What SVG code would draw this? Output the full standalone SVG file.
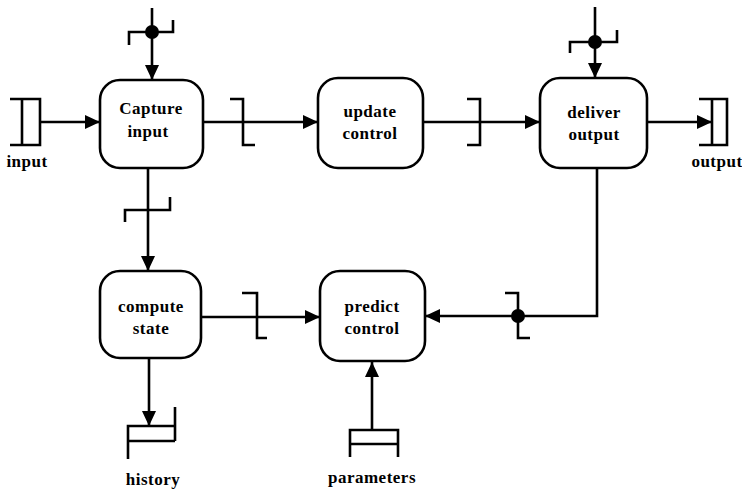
<svg xmlns="http://www.w3.org/2000/svg" width="742" height="492" viewBox="0 0 742 492">
  <style>
    .box { fill: #fff; stroke: #000; stroke-width: 2.6; }
    .ln { fill: none; stroke: #000; stroke-width: 2.6; }
    .t { font-family: "Liberation Serif", "Times New Roman", serif; font-weight: bold; font-size: 17px; text-anchor: middle; fill: #000; letter-spacing: 0.5px; }
  </style>
  <defs>
    <marker id="arrow" markerUnits="userSpaceOnUse" markerWidth="16" markerHeight="14" refX="15" refY="7" orient="auto">
      <path d="M0,0 L15,7 L0,14 z" fill="#000"/>
    </marker>
  </defs>

  <!-- flows -->
  <g id="connectors">
    <path class="ln" d="M40,122 H100" marker-end="url(#arrow)"/>
    <path class="ln" d="M152,8 V80" marker-end="url(#arrow)"/>
    <path class="ln" d="M203,122 H318" marker-end="url(#arrow)"/>
    <path class="ln" d="M423,122 H540" marker-end="url(#arrow)"/>
    <path class="ln" d="M595,7 V78" marker-end="url(#arrow)"/>
    <path class="ln" d="M647,122 H712" marker-end="url(#arrow)"/>
    <path class="ln" d="M148,168 V271" marker-end="url(#arrow)"/>
    <path class="ln" d="M201,317 H320" marker-end="url(#arrow)"/>
    <path class="ln" d="M597,168 V316 H425" marker-end="url(#arrow)"/>
    <path class="ln" d="M372,430 V362" marker-end="url(#arrow)"/>
    <path class="ln" d="M149,358 V426" marker-end="url(#arrow)"/>

    <!-- flow brackets and junctions -->
    <path class="ln" d="M129,45 V32 H173 V20"/>
    <circle cx="152" cy="32" r="7"/>
    <path class="ln" d="M230,99 H243 V145 H255"/>
    <path class="ln" d="M467,99 H480 V145 H467"/>
    <path class="ln" d="M570,53 V42 H617 V30"/>
    <circle cx="595" cy="42" r="7"/>
    <path class="ln" d="M125,222 V210 H170 V197"/>
    <path class="ln" d="M242,293 H257 V338 H267"/>
    <path class="ln" d="M505,293 H518 V338 H530"/>
    <circle cx="518" cy="316" r="7"/>
  </g>

  <g id="store-input">
    <path class="ln" d="M10,99 H40 V145 H10 M22,99 V145"/>
    <text class="t" x="27" y="167">input</text>
  </g>
  <g id="store-output">
    <path class="ln" d="M699,99 H727 V145 H699 M712,99 V145"/>
    <text class="t" x="717" y="167">output</text>
  </g>
  <g id="store-history">
    <path class="ln" d="M128,459 V426 H175 M128,441 H175 M175,407 V441"/>
    <text class="t" x="153" y="485">history</text>
  </g>
  <g id="store-parameters">
    <path class="ln" d="M350,457 V430 H398 V457 M350,444 H398"/>
    <text class="t" x="372" y="483">parameters</text>
  </g>

  <g id="capture-input">
    <rect class="box" x="100" y="80" width="103" height="88" rx="20"/>
    <text class="t" x="151" y="114">Capture</text>
    <text class="t" x="148" y="137">input</text>
  </g>
  <g id="update-control">
    <rect class="box" x="318" y="78" width="105" height="90" rx="20"/>
    <text class="t" x="370" y="117">update</text>
    <text class="t" x="370" y="139">control</text>
  </g>
  <g id="deliver-output">
    <rect class="box" x="540" y="78" width="107" height="90" rx="20"/>
    <text class="t" x="594" y="118">deliver</text>
    <text class="t" x="594" y="140">output</text>
  </g>
  <g id="compute-state">
    <rect class="box" x="100" y="271" width="101" height="87" rx="20"/>
    <text class="t" x="151" y="312">compute</text>
    <text class="t" x="151" y="334">state</text>
  </g>
  <g id="predict-control">
    <rect class="box" x="320" y="271" width="105" height="90" rx="20"/>
    <text class="t" x="372" y="312">predict</text>
    <text class="t" x="372" y="334">control</text>
  </g>
</svg>
